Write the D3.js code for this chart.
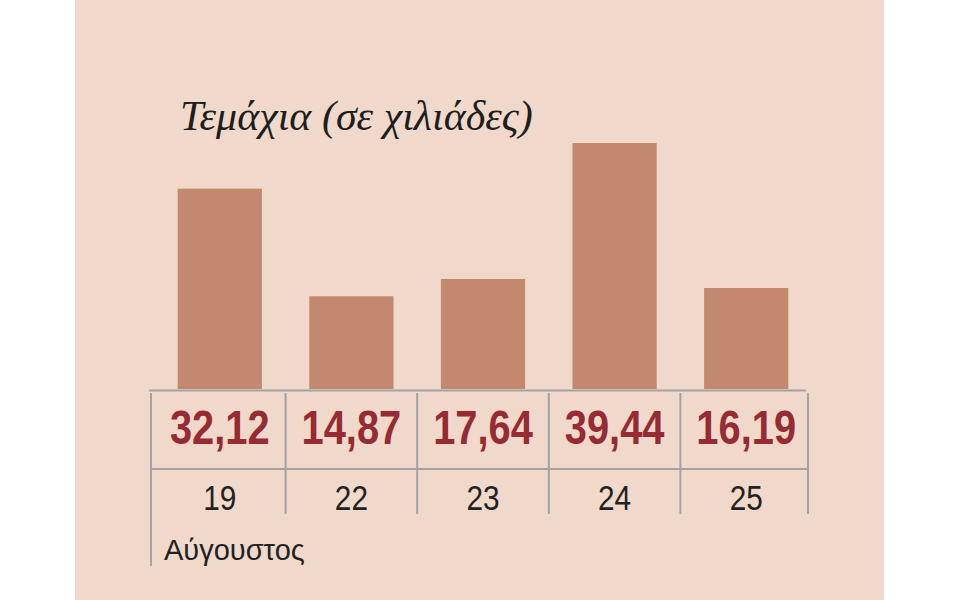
<!DOCTYPE html>
<html>
<head>
<meta charset="utf-8">
<script src="https://cdn.jsdelivr.net/npm/d3@7"></script>
<style>
  body { margin: 0; background: #ffffff; }
  .title { font-family: "Liberation Serif", serif; font-style: italic; font-size: 42px; fill: #1e1e1e; }
  .value { font-family: "Liberation Sans", sans-serif; font-weight: bold; font-size: 48px; fill: #962b33; }
  .day { font-family: "Liberation Sans", sans-serif; font-size: 35px; fill: #222222; }
  .month { font-family: "Liberation Sans", sans-serif; font-size: 29px; fill: #222222; }
  .grid { stroke: #a3a3a3; stroke-width: 2; }
</style>
</head>
<body>
<div id="chart"></div>
<script>
// data
var days = ["19", "22", "23", "24", "25"];
var values = [32.12, 14.87, 17.64, 39.44, 16.19];
var titleText = "Τεμάχια (σε χιλιάδες)";
var monthText = "Αύγουστος";

var width = 960, height = 600;
var baseline = 389;

var svg = d3.select("#chart").append("svg")
    .attr("width", width)
    .attr("height", height);

// panel background
svg.append("rect")
    .attr("x", 75).attr("y", 0)
    .attr("width", 809).attr("height", height)
    .attr("fill", "#f0d9ca");

// scales
var x = d3.scaleBand()
    .domain(days)
    .range([154, 812])
    .paddingInner(0.36)
    .paddingOuter(0.18);

var y = d3.scaleLinear()
    .domain([0, 39.44])
    .range([baseline, 143]);

var step = x.step();
var gap = step * x.paddingInner();

// bars
svg.selectAll(".bar")
    .data(days)
  .enter().append("rect")
    .attr("class", "bar")
    .attr("x", function(d) { return x(d); })
    .attr("y", function(d, i) { return y(values[i]); })
    .attr("width", x.bandwidth())
    .attr("height", function(d, i) { return baseline - y(values[i]); })
    .attr("fill", "#c3896e");

// table edges come from the band scale
var edges = days.map(function(d) { return x(d) - gap / 2; });
edges.push(x(days[days.length - 1]) + x.bandwidth() + gap / 2);
edges[0] -= 3;
edges[edges.length - 1] -= 4;
var left = edges[0], right = edges[edges.length - 1];

// horizontal rules
svg.append("line").attr("class", "grid")
    .attr("x1", left - 2).attr("x2", right - 2)
    .attr("y1", 390.5).attr("y2", 390.5);
svg.append("line").attr("class", "grid")
    .attr("x1", left).attr("x2", right)
    .attr("y1", 469).attr("y2", 469);

// vertical rules
svg.selectAll(".vline")
    .data(edges)
  .enter().append("line")
    .attr("class", "grid")
    .attr("x1", function(d) { return d; })
    .attr("x2", function(d) { return d; })
    .attr("y1", 393)
    .attr("y2", function(d, i) { return i === 0 ? 566 : 514; });

// values row (condensed look)
svg.selectAll(".value")
    .data(days)
  .enter().append("text")
    .attr("class", "value")
    .attr("transform", function(d) {
      return "translate(" + (x(d) + x.bandwidth() / 2) + ",444) scale(0.83,1)";
    })
    .attr("text-anchor", "middle")
    .text(function(d, i) { return d3.format(".2f")(values[i]).replace(".", ","); });

// days row
svg.selectAll(".day")
    .data(days)
  .enter().append("text")
    .attr("class", "day")
    .attr("transform", function(d) {
      return "translate(" + (x(d) + x.bandwidth() / 2) + ",510) scale(0.85,1)";
    })
    .attr("text-anchor", "middle")
    .text(function(d) { return d; });

svg.append("text")
    .attr("class", "month")
    .attr("x", left + 13)
    .attr("y", 560)
    .text(monthText);

svg.append("text")
    .attr("class", "title")
    .attr("x", 180)
    .attr("y", 130)
    .text(titleText);
</script>
</body>
</html>
